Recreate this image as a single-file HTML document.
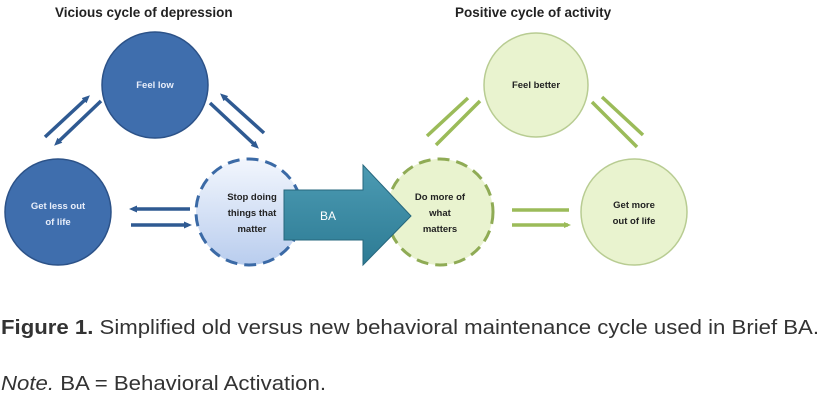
<!DOCTYPE html>
<html><head><meta charset="utf-8"><style>
html,body{margin:0;padding:0;background:#fff;width:822px;height:402px;overflow:hidden}
svg{display:block}
</style></head><body>
<svg width="822" height="402" viewBox="0 0 822 402" xmlns="http://www.w3.org/2000/svg" font-family="Liberation Sans, sans-serif">
<defs>
<linearGradient id="lb" x1="0" y1="0" x2="0" y2="1"><stop offset="0" stop-color="#f2f6fd"/><stop offset="1" stop-color="#b9cdee"/></linearGradient>
<linearGradient id="ba" x1="0" y1="0" x2="0" y2="1"><stop offset="0" stop-color="#4c9bb3"/><stop offset="1" stop-color="#2d7b94"/></linearGradient>
<marker id="hb" markerUnits="userSpaceOnUse" markerWidth="8" markerHeight="8" refX="4" refY="4" orient="auto"><path d="M0,0.5 L8,4 L0,7.5z" fill="#2f5a92"/></marker>
<marker id="hg" markerUnits="userSpaceOnUse" markerWidth="8" markerHeight="8" refX="4" refY="4" orient="auto"><path d="M0,1 L7,4 L0,7z" fill="#9bbb59"/></marker>
</defs>
<text x="55" y="17" font-size="13.5" font-weight="bold" fill="#222">Vicious cycle of depression</text>
<text x="455" y="17" font-size="13.5" font-weight="bold" fill="#222">Positive cycle of activity</text>

<g stroke="#2f5a92" stroke-width="3.5" marker-end="url(#hb)">
<line x1="45" y1="137" x2="87" y2="98"/>
<line x1="101" y1="101" x2="57" y2="143"/>
<line x1="264" y1="133" x2="223" y2="96"/>
<line x1="210" y1="103" x2="256" y2="146"/>
<line x1="190" y1="209" x2="133" y2="209"/>
<line x1="131" y1="225" x2="188" y2="225"/>
</g>
<g stroke="#9bbb59" stroke-width="3.5">
<line x1="427" y1="136" x2="468" y2="98"/>
<line x1="480" y1="101" x2="436" y2="145"/>
<line x1="602" y1="97" x2="643" y2="135"/>
<line x1="592" y1="102" x2="637" y2="147"/>
<line x1="512" y1="210" x2="569" y2="210"/>
<line x1="512" y1="225" x2="568" y2="225" marker-end="url(#hg)"/>
</g>

<circle cx="155" cy="85" r="53" fill="#3f6ead" stroke="#2c5288" stroke-width="1.5"/>
<circle cx="58" cy="212" r="53" fill="#3f6ead" stroke="#2c5288" stroke-width="1.5"/>
<circle cx="249" cy="212" r="53" fill="url(#lb)" stroke="#3b6aa6" stroke-width="3" stroke-dasharray="12,7"/>

<circle cx="536" cy="85" r="52" fill="#e9f3cf" stroke="#b8cc92" stroke-width="1.5"/>
<circle cx="634" cy="212" r="53" fill="#e9f3cf" stroke="#b8cc92" stroke-width="1.5"/>
<circle cx="440" cy="212" r="53" fill="#e9f3cf" stroke="#8fab55" stroke-width="3" stroke-dasharray="12,7"/>

<path d="M284,190 L363,190 L363,165 L411,216 L363,265 L363,240 L284,240z" fill="url(#ba)" stroke="#26677d" stroke-width="1"/>
<text x="328" y="220" font-size="12" fill="#fff" text-anchor="middle">BA</text>

<g font-size="9.5" font-weight="bold" text-anchor="middle">
<text x="155" y="88" fill="#e8eefa">Feel low</text>
<text x="58" y="209" fill="#e8eefa">Get less out</text>
<text x="58" y="225" fill="#e8eefa">of life</text>
<text x="252" y="200" fill="#222">Stop doing</text>
<text x="252" y="216" fill="#222">things that</text>
<text x="252" y="232" fill="#222">matter</text>
<text x="536" y="88" fill="#222">Feel better</text>
<text x="440" y="200" fill="#222">Do more of</text>
<text x="440" y="216" fill="#222">what</text>
<text x="440" y="232" fill="#222">matters</text>
<text x="634" y="208" fill="#222">Get more</text>
<text x="634" y="224" fill="#222">out of life</text>
</g>

<text x="1" y="334" font-size="20" fill="#333" textLength="818" lengthAdjust="spacingAndGlyphs"><tspan font-weight="bold">Figure 1.</tspan> Simplified old versus new behavioral maintenance cycle used in Brief BA.</text>
<text x="1" y="390" font-size="20" fill="#333" textLength="325" lengthAdjust="spacingAndGlyphs"><tspan font-style="italic">Note.</tspan> BA = Behavioral Activation.</text>
</svg>
</body></html>
